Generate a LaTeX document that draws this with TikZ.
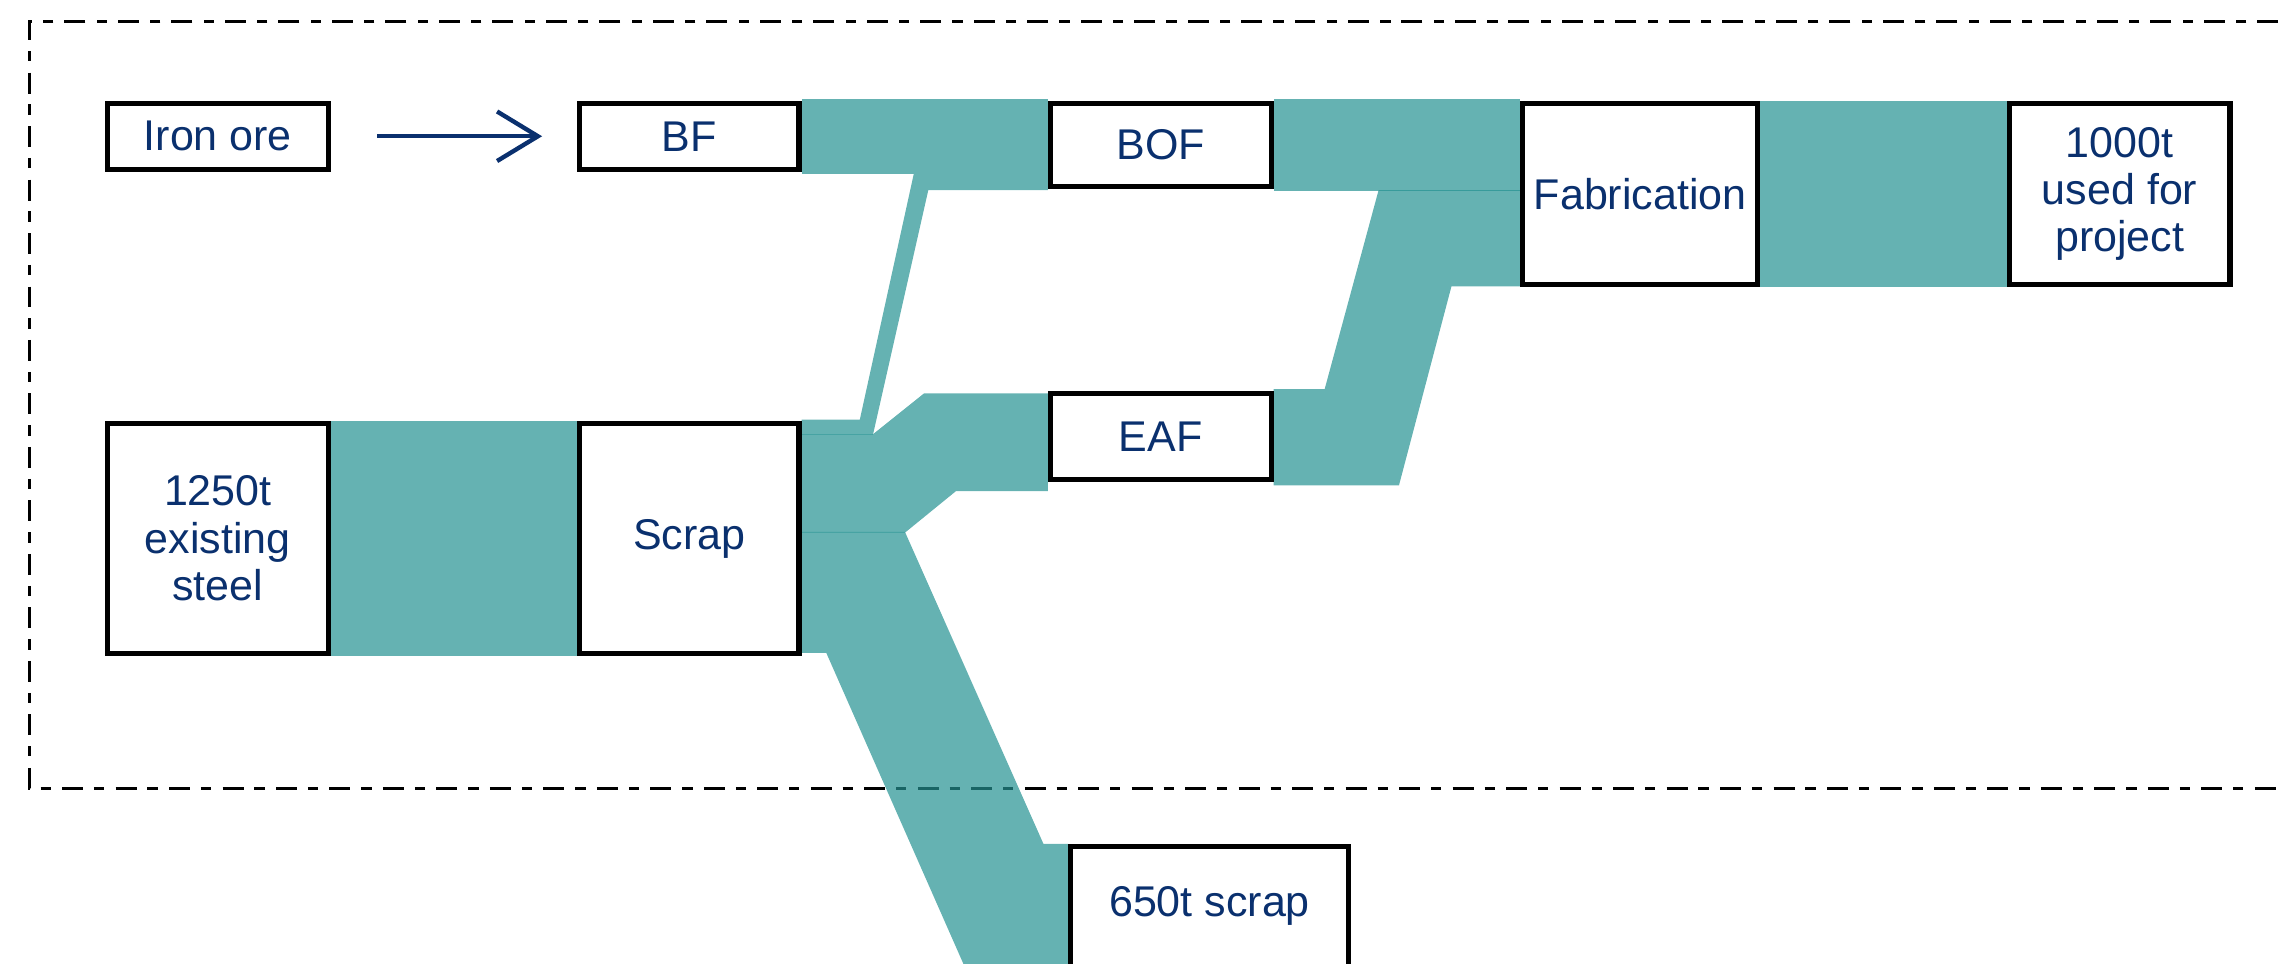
\documentclass[tikz,border=0pt]{standalone}
\usepackage{fontspec}
\setmainfont{Liberation Sans}
\usetikzlibrary{arrows.meta}
\definecolor{flowc}{RGB}{36,145,145}
\definecolor{txt}{RGB}{10,48,110}
\pgfdeclarelayer{bg}
\pgfsetlayers{bg,main}
\begin{document}
\begin{tikzpicture}[x=1pt,y=-1pt,
  box/.style={draw=black, line width=3.5pt, fill=white, text=txt, align=center,
    inner sep=0pt, font=\fontsize{29.5}{32.5}\selectfont},
  flow/.style={fill=flowc, fill opacity=0.7},
  frame/.style={draw=black, line width=2pt,
    dash pattern=on 14.4pt off 7.5pt on 7pt off 7.8pt},
  feed/.style={draw=txt, line width=3pt,
    -{Straight Barb[length=28pt, width=34pt, line width=3pt]}}]
\useasboundingbox (0,0) rectangle (1568,661);
\clip (0,0) rectangle (1568,661);
% boxes
\node[box, minimum width=151.5pt, minimum height=45.5pt] (ore) at (149.5,93.5) {Iron ore};
\node[box, minimum width=150.5pt, minimum height=45.5pt] (bf) at (473,93.5) {BF};
\node[box, minimum width=151.5pt, minimum height=57.5pt] (bof) at (796.5,99.5) {BOF};
\node[box, minimum width=161.5pt, minimum height=124.5pt] (fab) at (1125.5,133) {Fabrication};
\node[box, minimum width=151.5pt, minimum height=124.5pt] (proj) at (1454.5,133) {1000t\\used for\\project};
\node[box, minimum width=151.5pt, minimum height=157.5pt] (exist) at (149.5,369.5) {1250t\\existing\\steel};
\node[box, minimum width=150.5pt, minimum height=157.5pt] (scrap) at (473,369.5) {Scrap};
\node[box, minimum width=151.5pt, minimum height=59.5pt] (eaf) at (796.5,299.5) {EAF};
\node[box, minimum width=190.5pt, minimum height=82.5pt] (waste) at (830,622) {650t scrap};
% feed arrow
\draw[feed, shorten <=32pt, shorten >=24pt] (ore.east) -- (bf.west);
% flows and frame behind boxes
\begin{pgfonlayer}{bg}
\draw[frame] (1600,15) -- (20,15) -- (20,541) -- (1600,541);
\fill[flow] (bf.east |- 0,68) rectangle (bof.west |- 0,119.5);
\fill[flow] (scrap.east |- 0,288) -- (590,288) -- (627,119.5) -- (bof.west |- 0,119.5)
  -- (bof.west |- 0,130.5) -- (637,130.5) -- (599,298.5) -- (scrap.east |- 0,298.5) -- cycle;
\fill[flow] (scrap.east |- 0,298) -- (599,298) -- (634,270) -- (eaf.west |- 0,270)
  -- (eaf.west |- 0,337) -- (656,337) -- (621,365.5) -- (scrap.east |- 0,365.5) -- cycle;
\fill[flow] (scrap.east |- 0,365) -- (621,365) -- (716,579) -- (waste.west |- 0,579)
  -- (waste.west |- 0,668) -- (664,668) -- (567,448) -- (scrap.east |- 0,448) -- cycle;
\fill[flow] (exist.east |- 0,289) rectangle (scrap.west |- 0,450);
\fill[flow] (bof.east |- 0,68) rectangle (fab.west |- 0,131);
\fill[flow] (eaf.east |- 0,267) -- (909,267) -- (946,130.5) -- (fab.west |- 0,130.5)
  -- (fab.west |- 0,196.5) -- (996,196.5) -- (960,333) -- (eaf.east |- 0,333) -- cycle;
\fill[flow] (fab.east |- 0,69) rectangle (proj.west |- 0,197);
\end{pgfonlayer}
\end{tikzpicture}
\end{document}
